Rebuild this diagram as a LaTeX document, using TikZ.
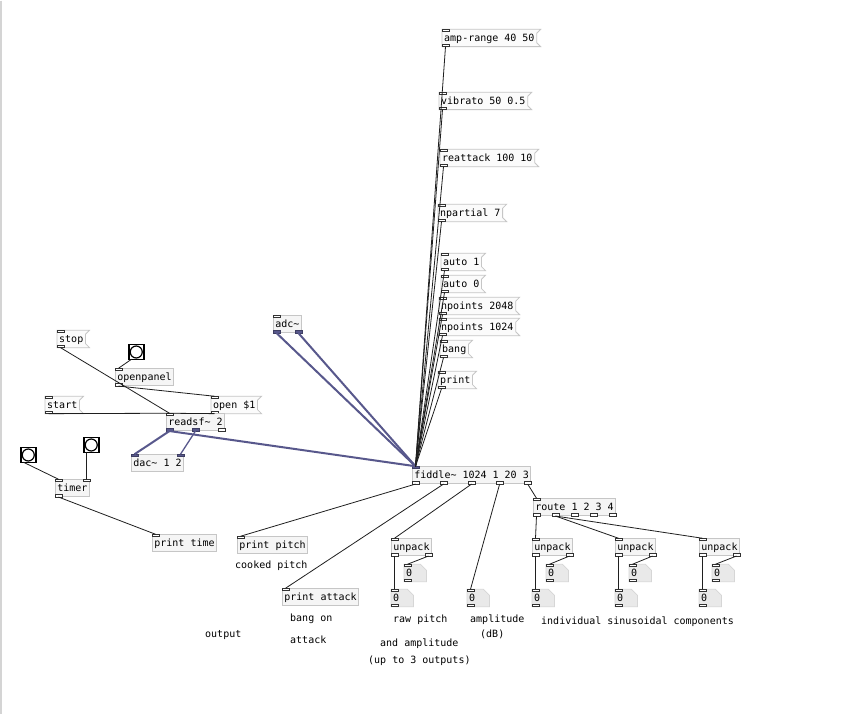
\documentclass[tikz,border=0pt]{standalone}
\usepackage{fontspec}
\newfontfamily\pdmono{DejaVu Sans Mono}
\usetikzlibrary{calc}
\pgfdeclarelayer{bg}
\pgfdeclarelayer{canvas}
\pgfsetlayers{canvas,bg,main}
\definecolor{boxline}{HTML}{C6C6C6}
\definecolor{boxfill}{HTML}{F5F5F5}
\definecolor{msgfill}{HTML}{FBFBFB}
\definecolor{nbfill}{HTML}{E9E9E9}
\definecolor{nbline}{HTML}{D6D6D6}
\definecolor{sig}{HTML}{58588C}
\definecolor{iolline}{HTML}{333333}
\tikzset{
  pdtext/.style={font=\pdmono\fontsize{10}{12}\selectfont, inner xsep=2pt, inner ysep=0pt, minimum height=17pt, text height=6.6pt, text depth=0pt, anchor=north west, text=black},
  obj/.style={pdtext, draw=boxline, fill=boxfill, line width=0.8pt},
  boxst/.style={draw=boxline, line width=0.8pt},
  iol/.style={draw=iolline, fill=white, line width=0.7pt},
  siol/.style={draw=sig!70!black, fill=sig, line width=0.7pt},
  ctl/.style={draw=black!88, line width=0.8pt},
  sigc/.style={draw=sig, line width=2pt},
  sigthin/.style={draw=sig, line width=1.3pt},
  bng/.style={draw=black, line width=1.5pt, fill=white, minimum size=15pt, inner sep=0pt, anchor=north west},
  cmt/.style={font=\pdmono\fontsize{10}{12}\selectfont, anchor=west, inner sep=0pt, text height=6.6pt, text depth=0pt, text=black}
}
% inlet / outlet: [style]{node}{id}{fraction along edge}
\newcommand\iolin[4][iol]{%
  \coordinate (#2-#3) at ($([xshift=3.5pt]#2.north west)!#4!([xshift=-3.5pt]#2.north east)$);
  \draw[#1] ([xshift=-3.5pt]#2-#3) rectangle ([xshift=3.5pt,yshift=-2.5pt]#2-#3);}
\newcommand\iolout[4][iol]{%
  \coordinate (#2-#3) at ($([xshift=3.5pt]#2.south west)!#4!([xshift=-3.5pt]#2.south east)$);
  \draw[#1] ([xshift=-3.5pt]#2-#3) rectangle ([xshift=3.5pt,yshift=2.5pt]#2-#3);}
\newcommand\pdobj[4]{\node[obj] (#1) at (#2,#3) {#4};}
\newcommand\pdmsg[4]{\node[pdtext] (#1) at (#2,#3) {#4};
  \begin{pgfonlayer}{bg}\filldraw[boxst,fill=msgfill] (#1.north west) -- ([xshift=4pt]#1.north east) -- ([yshift=-4pt]#1.north east) -- ([yshift=4pt]#1.south east) -- ([xshift=4pt]#1.south east) -- (#1.south west) -- cycle;\end{pgfonlayer}
  \iolin{#1}{i}{0}\iolout{#1}{o}{0}}
\newcommand\pdnum[3]{\node[pdtext,text width=18pt,align=left] (#1) at (#2,#3) {0};
  \begin{pgfonlayer}{bg}\filldraw[draw=nbline,fill=nbfill,line width=0.8pt] (#1.north west) -- ([xshift=-6pt]#1.north east) -- ([yshift=-6pt]#1.north east) -- (#1.south east) -- (#1.south west) -- cycle;\end{pgfonlayer}
  \iolin{#1}{i}{0}\iolout{#1}{o}{0}}
\newcommand\pdbng[3]{\node[bng] (#1) at (#2,#3) {};
  \draw[line width=1.2pt] (#1.center) circle (6pt);
  \coordinate (#1-o) at ([xshift=3.5pt,yshift=1pt]#1.south west);}
\begin{document}
\begin{tikzpicture}[x=1pt,y=-1pt]
\begin{pgfonlayer}{canvas}
\fill[white] (0,0) rectangle (855,713);
\draw[draw=black!17, line width=1.5pt] (0.75,0) -- (0.75,713);
\end{pgfonlayer}
\useasboundingbox (0,0) rectangle (855,713);

% message boxes feeding fiddle~
\pdmsg{m1}{442}{28.5}{amp-range 40 50}
\pdmsg{m2}{439}{91.5}{vibrato 50 0.5}
\pdmsg{m3}{440}{148.5}{reattack 100 10}
\pdmsg{m4}{438}{203.5}{npartial 7}
\pdmsg{m5}{441}{252.5}{auto 1}
\pdmsg{m6}{441}{274.5}{auto 0}
\pdmsg{m7}{439}{296.5}{npoints 2048}
\pdmsg{m8}{439}{317.5}{npoints 1024}
\pdmsg{m9}{440}{339.5}{bang}
\pdmsg{m10}{438}{370.5}{print}

% left part
\pdmsg{stop}{57}{329.5}{stop}
\pdbng{b1}{128}{343}
\pdobj{op}{115}{367.5}{openpanel} \iolin{op}{i}{0}\iolout{op}{o}{0}
\pdmsg{start}{45}{395.5}{start}
\pdmsg{open}{211}{395.5}{open \$1}
\pdobj{rd}{166}{412.5}{readsf\textasciitilde{} 2}
  \iolin{rd}{i}{0}\iolout[siol]{rd}{o1}{0}\iolout[siol]{rd}{o2}{0.5}\iolout{rd}{o3}{1}
\pdobj{dac}{131}{453.5}{dac\textasciitilde{} 1 2}
  \iolin[siol]{dac}{i1}{0}\iolin[siol]{dac}{i2}{1}
\pdbng{b2}{20}{446}
\pdbng{b3}{83}{436}
\pdobj{tim}{55}{478.5}{timer} \iolin{tim}{i1}{0}\iolin{tim}{i2}{1}\iolout{tim}{o}{0}
\pdobj{pt}{152}{533.5}{print time} \iolin{pt}{i}{0}

% adc and fiddle
\pdobj{adc}{273}{314.5}{adc\textasciitilde}
  \iolin{adc}{i}{0}\iolout[siol]{adc}{o1}{0}\iolout[siol]{adc}{o2}{1}
\pdobj{fid}{412}{465.5}{fiddle\textasciitilde{} 1024 1 20 3}
  \iolin[siol]{fid}{i}{0}
  \iolout{fid}{o1}{0}\iolout{fid}{o2}{0.25}\iolout{fid}{o3}{0.5}\iolout{fid}{o4}{0.75}\iolout{fid}{o5}{1}
\pdobj{pp}{237}{535.5}{print pitch} \iolin{pp}{i}{0}
\pdobj{pa}{282}{587.5}{print attack} \iolin{pa}{i}{0}
\pdobj{rt}{533}{497.5}{route 1 2 3 4}
  \iolin{rt}{i}{0}
  \iolout{rt}{o1}{0}\iolout{rt}{o2}{0.25}\iolout{rt}{o3}{0.5}\iolout{rt}{o4}{0.75}\iolout{rt}{o5}{1}
\pdobj{up1}{391}{537.5}{unpack} \iolin{up1}{i}{0}\iolout{up1}{o1}{0}\iolout{up1}{o2}{1}
\pdobj{up2}{532}{537.5}{unpack} \iolin{up2}{i}{0}\iolout{up2}{o1}{0}\iolout{up2}{o2}{1}
\pdobj{up3}{615}{537.5}{unpack} \iolin{up3}{i}{0}\iolout{up3}{o1}{0}\iolout{up3}{o2}{1}
\pdobj{up4}{699}{537.5}{unpack} \iolin{up4}{i}{0}\iolout{up4}{o1}{0}\iolout{up4}{o2}{1}
\pdnum{n1r}{404}{563.5}\pdnum{n1l}{391}{588.5}
\pdnum{n2r}{546}{563.5}\pdnum{n2l}{532}{588.5}
\pdnum{n3r}{629}{563.5}\pdnum{n3l}{615}{588.5}
\pdnum{n4r}{712}{563.5}\pdnum{n4l}{699}{588.5}
\pdnum{nba}{467}{588.5}

% comments
\node[cmt] (c1) at (235,564) {cooked pitch};
\node[cmt] (c2) at (290,617) {bang on};
\node[cmt] (c3) at (290,639) {attack};
\node[cmt] (c4) at (205,633) {output};
\node[cmt] (c5) at (393,618) {raw pitch};
\node[cmt] (c6) at (470,618) {amplitude};
\node[cmt] (c7) at (480,633) {(dB)};
\node[cmt] (c8) at (380,642) {and amplitude};
\node[cmt] (c9) at (368,659) {(up to 3 outputs)};
\node[cmt] (c10) at (541,620) {individual sinusoidal components};

% signal connections
\draw[sigc] (adc-o1) -- (fid-i);
\draw[sigc] (adc-o2) -- (fid-i);
\draw[sigc] (rd-o1) -- (fid-i);
\draw[sigc] (rd-o1) -- (dac-i1);
\draw[sigthin] (rd-o2) -- (dac-i2);

% control connections
\foreach \m in {m1,m2,m3,m4,m5,m6,m7,m8,m9,m10}{\draw[ctl] (\m-o) -- (fid-i);}
\draw[ctl] (stop-o) -- (rd-i);
\draw[ctl] (b1-o) -- (op-i);
\draw[ctl] (op-o) -- (open-i);
\draw[ctl] (start-o) -- (rd-i);
\draw[ctl] (open-o) -- (rd-i);
\draw[ctl] (b2-o) -- (tim-i1);
\draw[ctl] (b3-o) -- (tim-i2);
\draw[ctl] (tim-o) -- (pt-i);
\draw[ctl] (fid-o1) -- (pp-i);
\draw[ctl] (fid-o2) -- (pa-i);
\draw[ctl] (fid-o3) -- (up1-i);
\draw[ctl] (fid-o4) -- (nba-i);
\draw[ctl] (fid-o5) -- (rt-i);
\draw[ctl] (rt-o1) -- (up2-i);
\draw[ctl] (rt-o2) -- (up3-i);
\draw[ctl] (rt-o2) -- (up4-i);
\foreach \k in {1,2,3,4}{
  \draw[ctl, line width=1.1pt] (up\k-o1) -- (n\k l-i);
  \draw[ctl] (up\k-o2) -- (n\k r-i);
}
\end{tikzpicture}
\end{document}
